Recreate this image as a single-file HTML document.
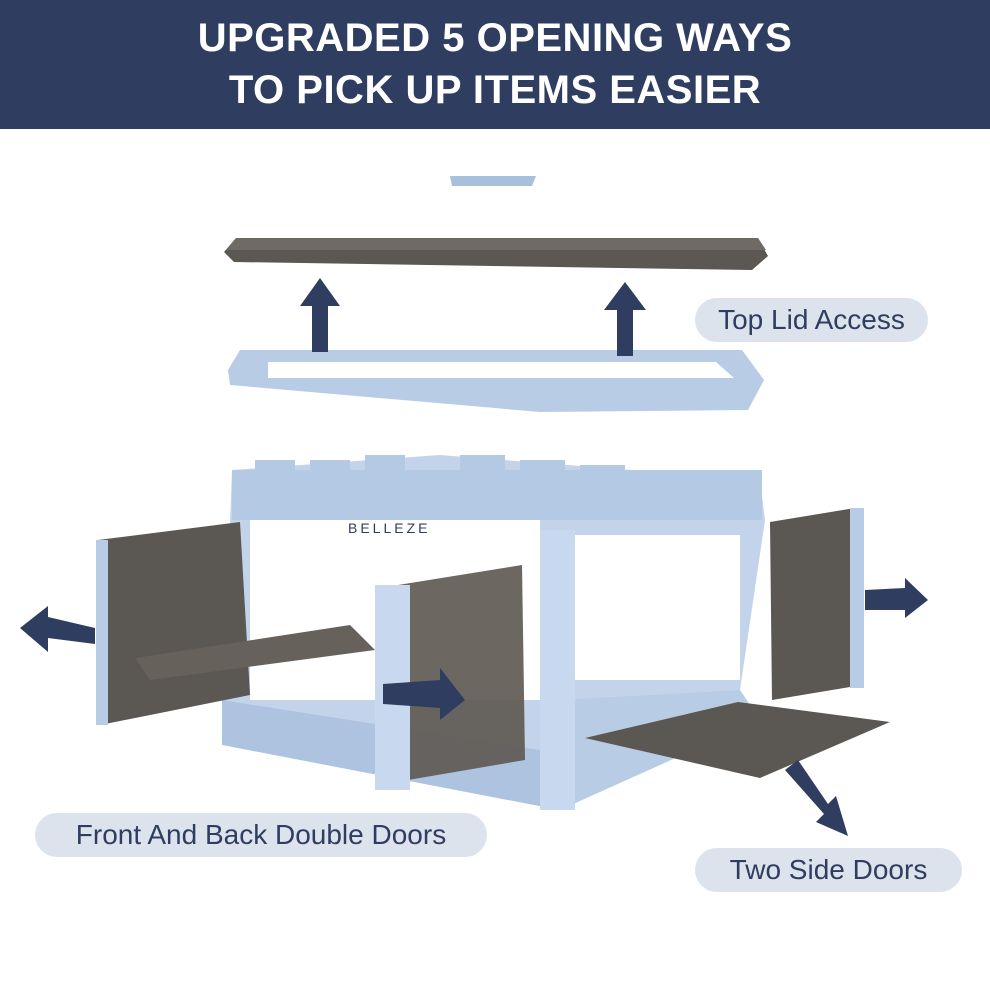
<!DOCTYPE html>
<html><head><meta charset="utf-8"><style>
html,body{margin:0;padding:0;background:#fff;}
.wrap{width:990px;height:990px;position:relative;overflow:hidden;font-family:"Liberation Sans",sans-serif;}
.hdr{position:absolute;left:0;top:0;width:990px;height:129px;background:#2f3e60;color:#fff;font-weight:bold;font-size:40px;text-align:center;line-height:52px;padding-top:12px;box-sizing:border-box;letter-spacing:0.5px;}
.pill{position:absolute;background:#dde3ec;color:#2f3e60;font-size:28px;border-radius:24px;text-align:center;line-height:44px;}
svg{position:absolute;left:0;top:0;}
</style></head><body><div class="wrap">
<div class="hdr">UPGRADED 5 OPENING WAYS<br>TO PICK UP ITEMS EASIER</div>
<svg width="990" height="990" viewBox="0 0 990 990">
<!-- small cap -->
<polygon points="450,176 536,176 532,186 452,186" fill="#a9c0dc"/>
<!-- lid -->
<polygon points="236,238 758,238 768,256 752,270 234,262 224,252" fill="#5b5752"/>
<polygon points="236,238 758,238 766,250 226,250" fill="#6f6a63"/>
<!-- frame -->
<polygon points="240,350 742,350 764,380 748,410 540,412 230,385 228,370" fill="#b8cce6"/>
<polygon points="268,362 716,362 734,378 268,378" fill="#ffffff"/>
<!-- up arrows -->
<polygon points="300,306 320,278 340,306 328,306 328,352 312,352 312,306" fill="#2f3e60"/>
<polygon points="604,310 625,282 646,310 633,310 633,356 617,356 617,310" fill="#2f3e60"/>
<!-- body back -->
<polygon points="232,470 440,455 760,480 765,520 740,690 560,790 222,740" fill="#c3d4ea"/>
<rect x="250" y="520" width="290" height="180" fill="#fff"/>
<rect x="575" y="535" width="165" height="145" fill="#fff"/>
<!-- rim blocks -->
<g fill="#b4c9e4">
<rect x="232" y="470" width="530" height="50"/>
<rect x="255" y="460" width="40" height="20"/><rect x="310" y="460" width="40" height="20"/><rect x="365" y="455" width="40" height="20"/><rect x="460" y="455" width="45" height="20"/><rect x="520" y="460" width="45" height="20"/><rect x="580" y="465" width="45" height="20"/><rect x="640" y="470" width="45" height="20"/><rect x="695" y="475" width="45" height="20"/>
</g>
<text x="348" y="533" font-family="Liberation Sans" font-size="14" fill="#2f3e60" letter-spacing="3">BELLEZE</text>
<!-- body bottom -->
<polygon points="222,700 540,750 560,810 222,745" fill="#aec3df"/>
<polygon points="560,700 740,690 760,720 560,810" fill="#b8cce6"/>
<rect x="540" y="530" width="35" height="280" fill="#c8d8ee"/>
<!-- left door -->
<polygon points="98,540 240,522 250,695 100,725" fill="#5b5752"/>
<rect x="96" y="540" width="12" height="185" fill="#b8cce6"/>
<polygon points="135,658 350,625 375,650 150,680" fill="#66615a"/>
<!-- front right door -->
<polygon points="398,585 522,565 525,760 408,780" fill="#5f5a54" opacity="0.92"/>
<rect x="375" y="585" width="35" height="205" fill="#c8d8ee"/>
<!-- right side door -->
<polygon points="770,522 855,508 862,685 772,700" fill="#5b5752"/>
<rect x="850" y="508" width="14" height="180" fill="#b8cce6"/>
<!-- bottom right door -->
<polygon points="585,738 738,702 890,722 760,778" fill="#5b5752"/>
<!-- arrows -->
<polygon points="20,628 48,606 48,617 95,628 95,644 48,638 48,652" fill="#2f3e60"/>
<polygon points="383,684 440,680 440,668 465,700 440,720 440,708 383,704" fill="#2f3e60"/>
<polygon points="865,590 905,588 905,578 928,600 905,618 905,610 865,610" fill="#2f3e60"/>
<polygon points="785,770 798,760 828,804 836,796 848,836 816,822 824,814" fill="#2f3e60"/>
</svg>
<div class="pill" style="left:695px;top:298px;width:233px;">Top Lid Access</div>
<div class="pill" style="left:35px;top:813px;width:452px;">Front And Back Double Doors</div>
<div class="pill" style="left:695px;top:848px;width:267px;">Two Side Doors</div>
</div></body></html>
